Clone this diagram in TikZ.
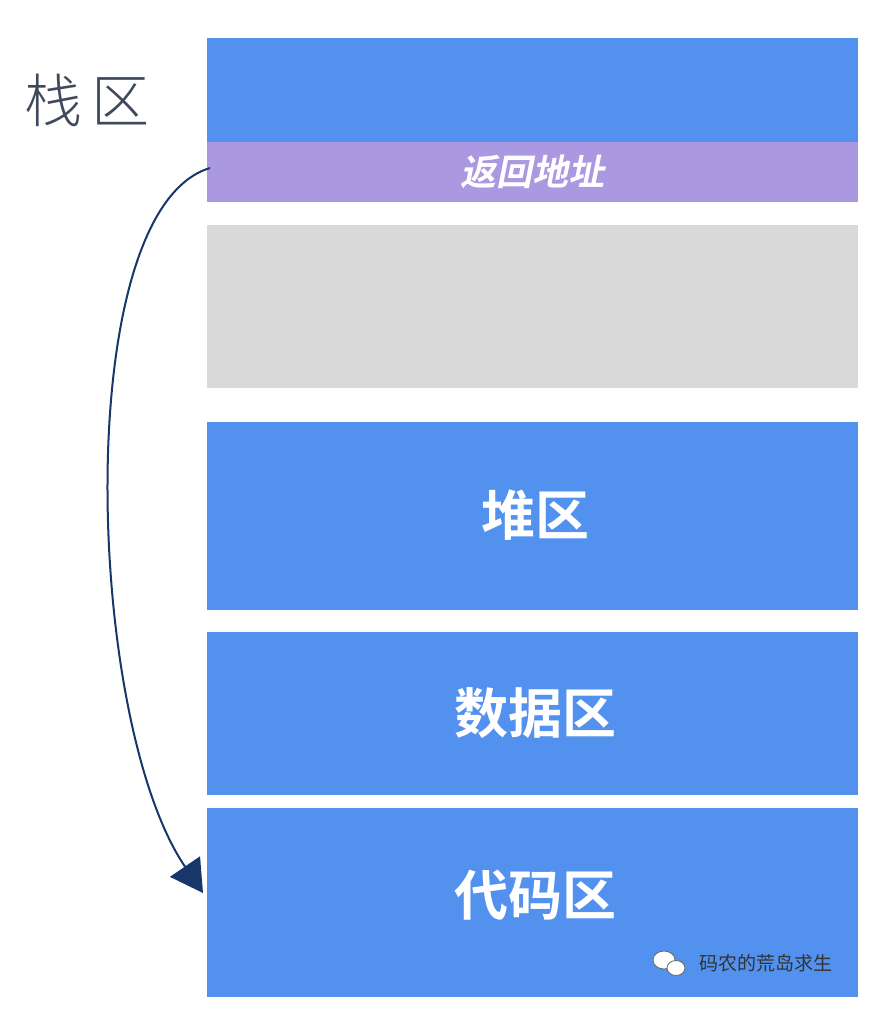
\documentclass[tikz,border=0pt]{standalone}
\usepackage{fontspec}
\newfontfamily\cjk{Noto Sans CJK SC}
\newfontfamily\cjkb{Noto Sans CJK SC Bold}
\newfontfamily\cjkl{Noto Sans CJK SC Light}
\usetikzlibrary{arrows.meta}
\definecolor{bl}{HTML}{5291EE}
\definecolor{pu}{HTML}{AA98E0}
\definecolor{gr}{HTML}{D9D9DA}
\definecolor{nv}{HTML}{17376A}
\definecolor{sg}{HTML}{3E4A5C}
\tikzset{blk/.style={draw=none,minimum width=651pt,anchor=north west,inner sep=0},
lbl/.style={text=white,font=\cjkb\fontsize{54}{54}\selectfont}}
\begin{document}
\begin{tikzpicture}[x=1pt,y=-1pt]
\useasboundingbox (0,0) rectangle (890,1014);
\fill[white] (0,0) rectangle (890,1014);
\node[blk,fill=bl,minimum height=104pt] (stack) at (207,38) {};
\node[blk,fill=pu,minimum height=60pt] (ret) at (207,142) {};
\node[text=white,font=\cjkb\fontsize{36}{36}\selectfont,xslant=0.2] (rett) at (535,172) {返回地址};
\node[blk,fill=gr,minimum height=163pt] (free) at (207,225) {};
\node[blk,fill=bl,minimum height=188pt] (heap) at (207,422) {};
\node[lbl] at (535,515) {堆区};
\node[blk,fill=bl,minimum height=163pt] (data) at (207,632) {};
\node[lbl] at (535,713) {数据区};
\node[blk,fill=bl,minimum height=189pt] (code) at (207,808) {};
\node[lbl] at (535,895) {代码区};
\node[text=sg,font=\cjkl\fontsize{58}{58}\selectfont] (st) at (87,100) {栈\,区};
\node[font=\cjk\fontsize{19}{19}\selectfont,text=black!80] (wm) at (766,963) {码农的荒岛求生};
\fill[white,draw=black!60,line width=0.8pt] (664,960) ellipse (11pt and 9pt);
\fill[white,draw=black!60,line width=0.8pt] (676,968) ellipse (9pt and 7.5pt);
\coordinate (a0) at (210,168);
\coordinate (a1) at (203,893);
\draw[nv,line width=2pt,-{Triangle[length=32pt,width=36pt]}] (a0) .. controls (70,210) and (85,720) .. (a1);
\end{tikzpicture}
\end{document}
